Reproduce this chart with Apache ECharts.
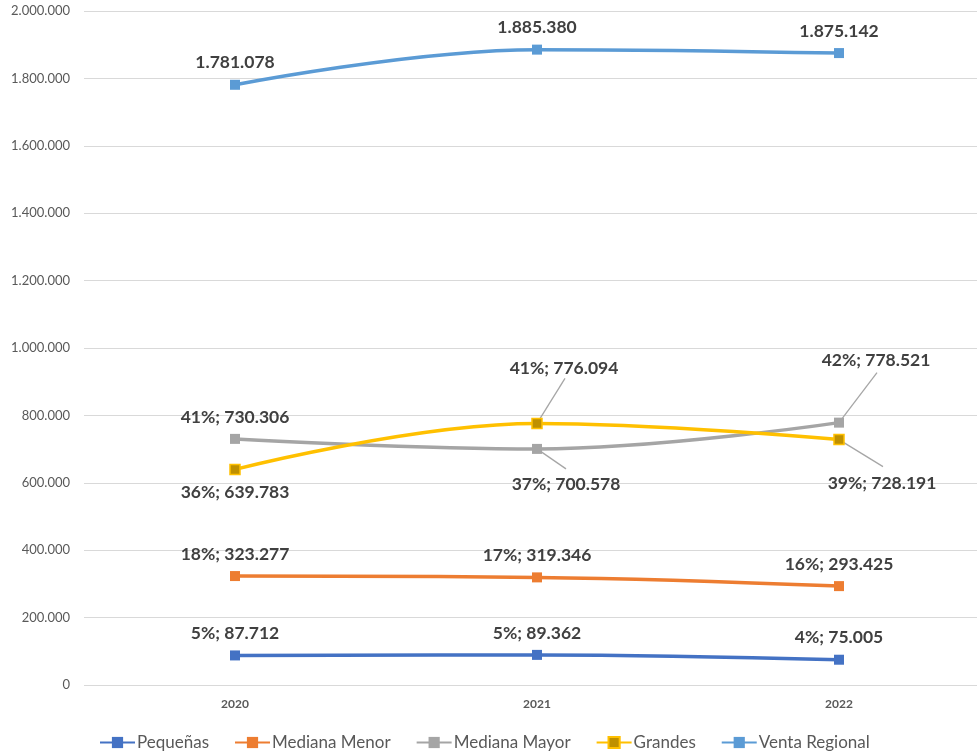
<!DOCTYPE html>
<html>
<head>
<meta charset="utf-8">
<script src="https://cdn.jsdelivr.net/npm/echarts@6/dist/echarts.min.js"></script>
<style>
  html, body { margin: 0; padding: 0; background: #fff; }
  #chart { width: 977px; height: 752px; }
</style>
</head>
<body>
<div id="chart"></div>
<script>
// Ventas por tamaño de empresa, 2020-2022
const years = ['2020', '2021', '2022'];
const pequenas = [87712, 89362, 75005];
const medianaMenor = [323277, 319346, 293425];
const medianaMayor = [730306, 700578, 778521];
const grandes = [639783, 776094, 728191];
const ventaRegional = [1781078, 1885380, 1875142];

const seriesNames = ['Pequeñas', 'Mediana Menor', 'Mediana Mayor', 'Grandes', 'Venta Regional'];
const seriesValues = [pequenas, medianaMenor, medianaMayor, grandes, ventaRegional];
const colors = ['#4472C4', '#ED7D31', '#A5A5A5', '#FFC000', '#5B9BD5'];

function fmt(v) {
  return String(Math.round(v)).replace(/\B(?=(\d{3})+(?!\d))/g, '.');
}

// label placement per series / point: base side, extra shift, and guide-line vector
const labelPlacement = {
  'Mediana Mayor': [
    { pos: 'top' },
    { pos: 'bottom', dx: 29, dy: 13, guide: [29, 20] },
    { pos: 'top', dx: 37, dy: -40, guide: [38, -50] }
  ],
  'Grandes': [
    { pos: 'bottom' },
    { pos: 'top', dx: 27, dy: -32, guide: [28, -45] },
    { pos: 'bottom', dx: 43, dy: 21, guide: [44, 27] }
  ]
};

const chart = echarts.init(document.getElementById('chart'));

const series = seriesNames.map((name, si) => {
  const vals = seriesValues[si];
  const isTotal = name === 'Venta Regional';
  const placement = labelPlacement[name];
  return {
    name: name,
    type: 'line',
    smooth: 0.4,
    symbol: 'rect',
    symbolSize: 10,
    lineStyle: { width: 3.5, color: colors[si] },
    itemStyle: {
      color: name === 'Grandes' ? '#BF9000' : colors[si],
      borderColor: colors[si],
      borderWidth: name === 'Grandes' ? 1.5 : 0
    },
    data: vals.map((v, i) => ({
      value: v,
      label: { position: placement ? placement[i].pos : 'top' }
    })),
    label: {
      show: true,
      distance: 8,
      fontFamily: 'Lato',
      fontWeight: 'bold',
      fontSize: 17.5,
      color: '#404040',
      formatter: p => {
        if (isTotal) return fmt(p.value);
        const pct = Math.round(p.value / ventaRegional[p.dataIndex] * 100);
        return pct + '%; ' + fmt(p.value);
      }
    },
    labelLayout: placement ? (params) => {
      const pl = placement[params.dataIndex];
      return { dx: pl.dx || 0, dy: pl.dy || 0 };
    } : null,
    emphasis: { disabled: true },
    z: isTotal ? 2 : 3
  };
});

// guide lines joining shifted labels to their points
const guides = [];
Object.keys(labelPlacement).forEach(name => {
  const vals = seriesValues[seriesNames.indexOf(name)];
  labelPlacement[name].forEach((pl, i) => {
    if (pl.guide) guides.push({ value: [i, vals[i]], vec: pl.guide });
  });
});

series.push({
  type: 'custom',
  name: 'guides',
  z: 1,
  silent: true,
  data: guides.map(g => g.value),
  renderItem: (params, api) => {
    const p = api.coord([api.value(0), api.value(1)]);
    const vec = guides[params.dataIndex].vec;
    return {
      type: 'line',
      shape: { x1: p[0], y1: p[1], x2: p[0] + vec[0], y2: p[1] + vec[1] },
      style: { stroke: '#A6A6A6', lineWidth: 1.3 }
    };
  }
});

chart.setOption({
  animation: false,
  color: colors,
  grid: { left: 84, top: 11, bottom: 67, width: 906, outerBoundsMode: 'none', containLabel: false },
  xAxis: {
    type: 'category',
    data: years,
    boundaryGap: true,
    axisLine: { show: false },
    axisTick: { show: false },
    axisLabel: {
      fontFamily: 'Lato',
      fontWeight: 'bold',
      fontSize: 12,
      color: '#595959',
      margin: 13
    }
  },
  yAxis: {
    type: 'value',
    min: 0,
    max: 2000000,
    interval: 200000,
    axisLine: { show: false },
    axisTick: { show: false },
    splitLine: { lineStyle: { color: '#D9D9D9', width: 1 } },
    axisLabel: {
      fontFamily: 'Lato',
      fontSize: 13,
      color: '#595959',
      margin: 14,
      formatter: v => fmt(v)
    }
  },
  legend: {
    data: seriesNames,
    left: 94,
    top: 729,
    itemWidth: 35,
    itemHeight: 14,
    itemGap: 25,
    textStyle: { fontFamily: 'Lato', fontSize: 17, color: '#595959', padding: [0, 0, 0, -3] }
  },
  series: series
});
</script>
</body>
</html>
